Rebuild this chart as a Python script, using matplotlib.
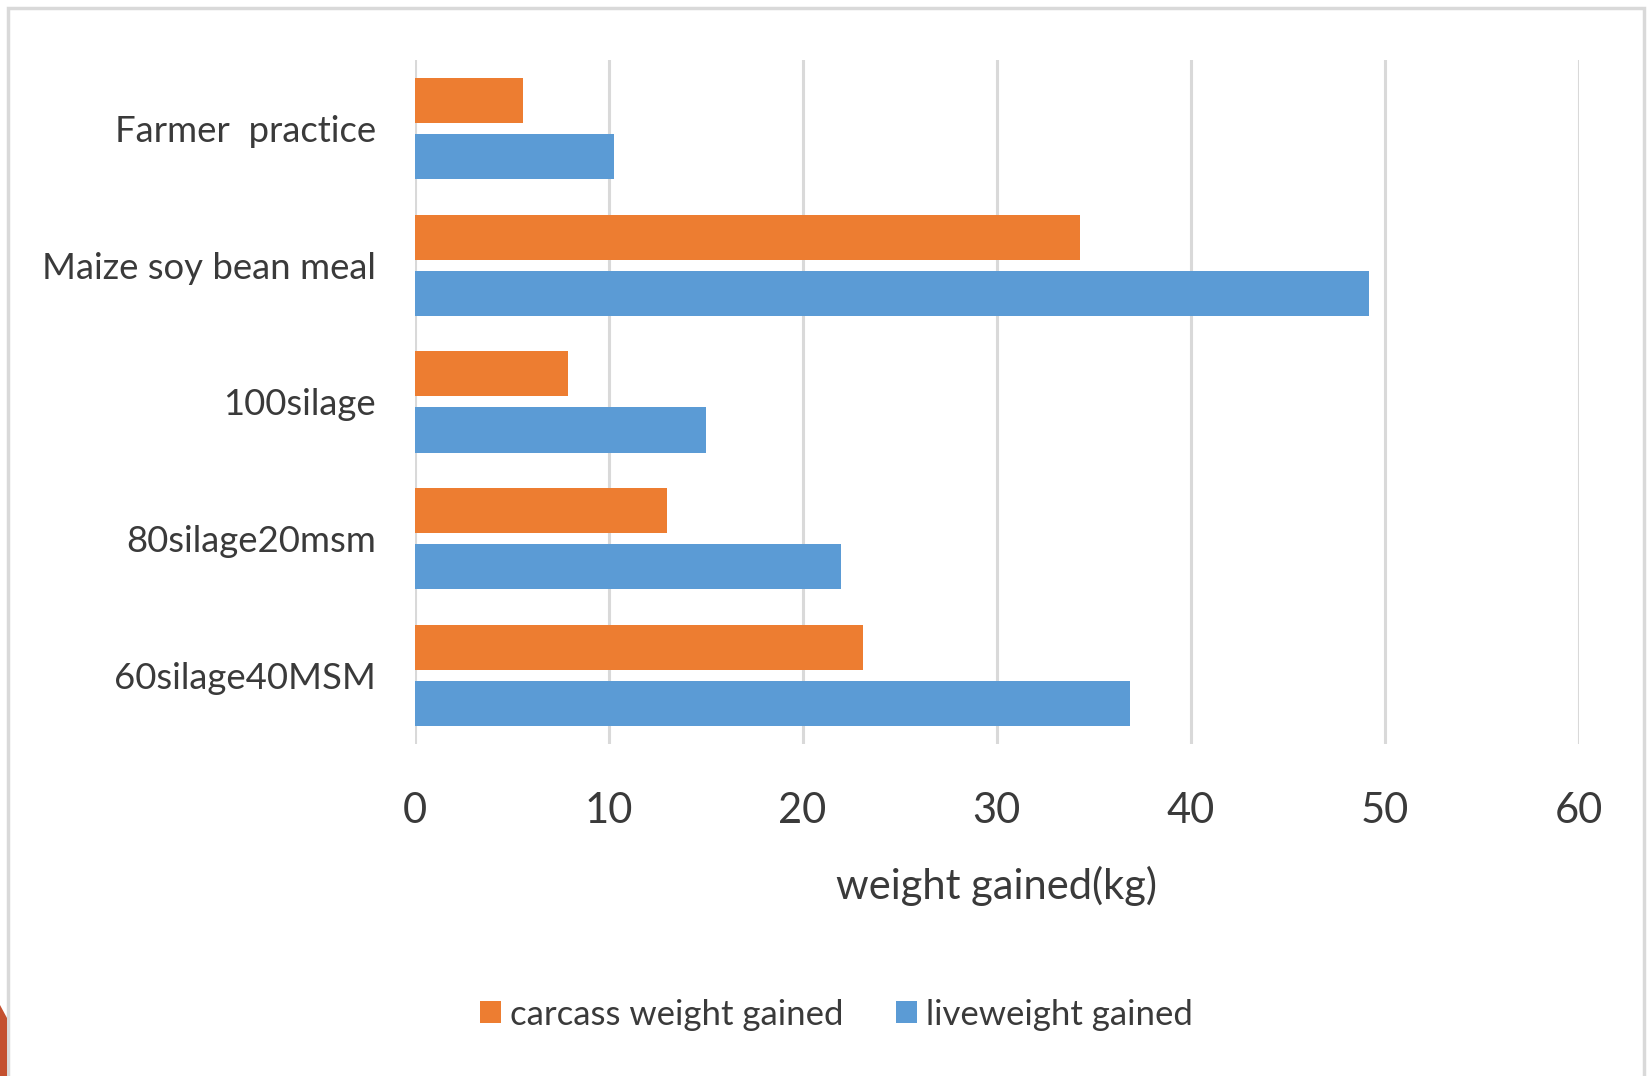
import matplotlib
matplotlib.use("Agg")
import matplotlib.pyplot as plt
from matplotlib.patches import Polygon, Rectangle
import numpy as np

plt.rcParams['font.family'] = ['Lato', 'DejaVu Sans']

# %%
diets = ["Farmer  practice", "Maize soy bean meal", "100silage",
         "80silage20msm", "60silage40MSM"]
carcass_gain = [5.6, 34.3, 7.9, 13.0, 23.1]
live_gain = [10.3, 49.2, 15.0, 22.0, 36.9]
xticks = [0, 10, 20, 30, 40, 50, 60]

orange = '#ED7D31'
blue = '#5B9BD5'
txt = '#3a3a3a'
gridc = '#D9D9D9'

# %%
fig = plt.figure(figsize=(16.5, 10.76), dpi=100)
ax = fig.add_axes([0.2513, 0.3086, 0.7054, 0.6357])

y = np.arange(len(diets))
h = 0.33
ax.barh(y - 0.205, carcass_gain, height=h, color=orange,
        label='carcass weight gained', zorder=3)
ax.barh(y + 0.205, live_gain, height=h, color=blue,
        label='liveweight gained', zorder=3)

ax.set_ylim(len(diets) - 0.5, -0.5)
ax.set_xlim(0, 60)
ax.set_xticks(xticks)
ax.set_yticks(y)
ax.set_yticklabels(diets, fontsize=26.3, color=txt)
ax.tick_params(axis='y', length=0, pad=28)
ax.tick_params(axis='x', length=0, pad=34.5, labelsize=30, labelcolor=txt)
ax.grid(axis='x', color=gridc, lw=2.2, zorder=0)
for s in ax.spines.values():
    s.set_visible(False)
ax.set_xlabel('weight gained(kg)', fontsize=30, color=txt, labelpad=26)

leg = fig.legend(loc='center', bbox_to_anchor=(0.507, 0.057), ncol=2,
                 frameon=False, fontsize=25, handlelength=0.6,
                 handleheight=0.6, handletextpad=0.27, columnspacing=1.5,
                 labelcolor=txt)

# outer frame and the corner shape
W, H = 1650, 1076
fig.patches.append(Rectangle((8 / W, -0.05), (1644 - 8) / W, 1.05 - 8 / H,
                             transform=fig.transFigure, fill=False,
                             ec=gridc, lw=2.5))
corner = [(0, 1005), (7, 1018), (7, 1076), (0, 1076)]
fig.patches.append(Polygon([(px / W, 1 - py / H) for px, py in corner],
                           closed=True, transform=fig.transFigure,
                           fc='#C4502F', ec='none'))

fig.savefig('out.png', dpi=100)
